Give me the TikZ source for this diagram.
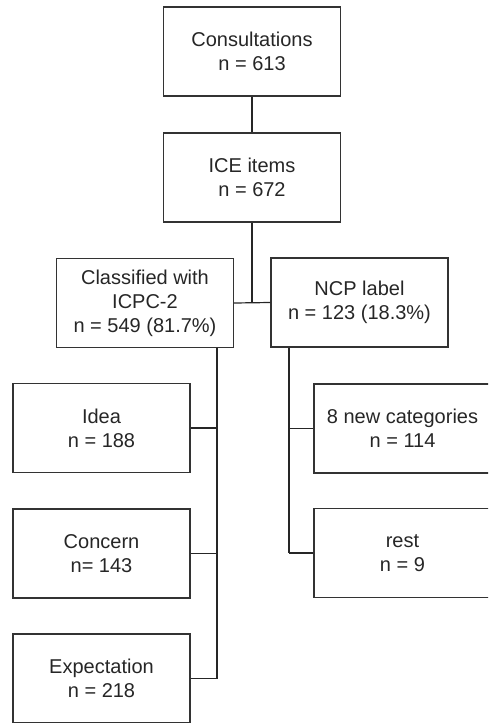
\documentclass[tikz,border=0pt]{standalone}
\usepackage{fontspec}
\setmainfont{Liberation Sans}
\begin{document}
\begin{tikzpicture}[x=1pt,y=-1pt,
  box/.style={draw=black!80, line width=1.2pt, minimum width=177pt, minimum height=89pt,
    inner sep=0pt, align=center, text=black!85, font=\fontsize{20}{24}\selectfont},
  conn/.style={draw=black!85, line width=1.2pt}]
\useasboundingbox (0,0) rectangle (488,723);
\clip (0,0) rectangle (488,723);
\node[box] (cons) at (252,51.5) {Consultations\\n = 613};
\node[box] (ice) at (252,177.5) {ICE items\\n = 672};
\node[box] (cls) at (145,303) {Classified with\\ICPC-2\\n = 549 (81.7\%)};
\node[box] (ncp) at (359.5,302.5) {NCP label\\n = 123 (18.3\%)};
\node[box] (idea) at (101.5,428) {Idea\\n = 188};
\node[box] (conc) at (101.5,553.5) {Concern\\n= 143};
\node[box] (expe) at (101.5,678.5) {Expectation\\n = 218};
\node[box] (newc) at (402.5,428.5) {8 new categories\\n = 114};
\node[box] (rest) at (402.5,553) {rest\\n = 9};
\coordinate (lt) at ([xshift=72pt]cls.south);
\coordinate (rt) at ([xshift=-70.5pt]ncp.south);
\draw[conn, line width=2pt] (cons.south) -- (ice.north);
\draw[conn] (ice.south) -- (ice.south |- cls.east);
\draw[conn] (cls.east) -- (ncp.west);
\draw[conn] (lt) -- (lt |- expe.east);
\draw[conn] (idea.east) -- (idea.east -| lt);
\draw[conn] (conc.east) -- (conc.east -| lt);
\draw[conn] (expe.east) -- (expe.east -| lt);
\draw[conn] (rt) -- (rt |- rest.west);
\draw[conn] (newc.west) -- (newc.west -| rt);
\draw[conn] (rest.west) -- (rest.west -| rt);
\end{tikzpicture}
\end{document}
